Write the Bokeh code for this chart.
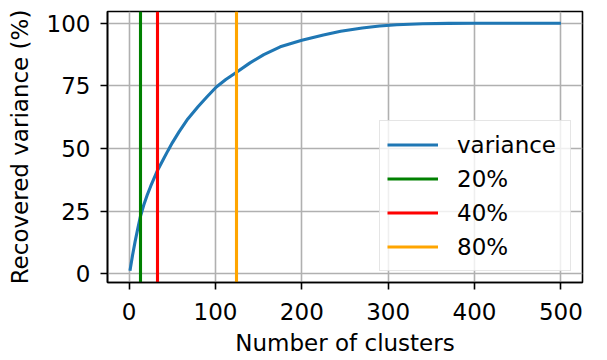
from bokeh.plotting import figure
from bokeh.models import Range1d, FixedTicker, Legend
from bokeh.embed import file_html
from bokeh.resources import INLINE

# data
clusters = [1, 4, 7, 10, 13, 17, 21, 25, 33, 40, 45, 50, 58, 67, 80, 90, 101, 112,
            124, 140, 156, 175, 200, 225, 245, 270, 290, 310, 340, 370, 400, 450, 500]
variance = [1.3, 7.5, 13, 18, 22.8, 27.5, 31.5, 35, 41.4, 46, 49.2, 52.3, 56.8, 61.4,
            66.8, 70.6, 74.6, 77.6, 80.4, 84.2, 87.5, 90.6, 93.2, 95.3, 96.8, 98.1,
            98.9, 99.4, 99.8, 99.95, 100, 100, 100]
thresh_labels = ["20%", "40%", "80%"]
thresh_x = [13, 33, 124]
thresh_colors = ["green", "red", "orange"]
x_ticks = [0, 100, 200, 300, 400, 500]
y_ticks = [0, 25, 50, 75, 100]

FONT = "DejaVu Sans"
FS = "23px"

p = figure(frame_width=475, frame_height=271, min_border_left=107, min_border_right=16,
           min_border_top=11, min_border_bottom=70,
           x_range=Range1d(-25, 525), y_range=Range1d(-3.4, 104.7),
           output_backend="svg", toolbar_location=None)

p.outline_line_color = "black"
p.outline_line_width = 1.6

for ax in (p.xaxis, p.yaxis):
    ax.major_label_text_font = FONT
    ax.major_label_text_font_size = FS
    ax.major_label_text_color = "black"
    ax.axis_label_text_font = FONT
    ax.axis_label_text_font_size = FS
    ax.axis_label_text_font_style = "normal"
    ax.axis_label_text_color = "black"
    ax.major_tick_in = 0
    ax.major_tick_out = 7
    ax.major_tick_line_width = 1.6
    ax.major_tick_line_color = "black"
    ax.minor_tick_line_color = None
    ax.axis_line_width = 1.6
    ax.axis_line_color = "black"

p.xaxis.major_label_standoff = 13
p.yaxis.major_label_standoff = 10
p.xaxis.ticker = FixedTicker(ticks=x_ticks)
p.yaxis.ticker = FixedTicker(ticks=y_ticks)
p.xaxis.axis_label = "Number of clusters"
p.yaxis.axis_label = "Recovered variance (%)"
p.xaxis.axis_label_standoff = 7
p.yaxis.axis_label_standoff = 11

for g in (p.xgrid, p.ygrid):
    g.grid_line_color = "#b0b0b0"
    g.grid_line_width = 1.6

items = []
r = p.line(clusters, variance, line_color="#1f77b4", line_width=3.1)
items.append(("variance", [r]))
for lab, xv, c in zip(thresh_labels, thresh_x, thresh_colors):
    rv = p.vspan(x=[xv], line_color=c, line_width=3.1)
    items.append((lab, [rv]))

legend = Legend(items=items, location=(272, 11))
legend.label_text_font = FONT
legend.label_text_font_size = FS
legend.label_text_color = "black"
legend.glyph_width = 51
legend.glyph_height = 33
legend.label_height = 33
legend.label_width = 106
legend.label_standoff = 19
legend.spacing = 1
legend.padding = 7
legend.margin = 0
legend.border_line_color = "#cccccc"
legend.border_line_width = 1.6
legend.background_fill_color = "white"
legend.background_fill_alpha = 0.8
p.add_layout(legend, "center")

open("out.html", "w").write(file_html(p, INLINE))
